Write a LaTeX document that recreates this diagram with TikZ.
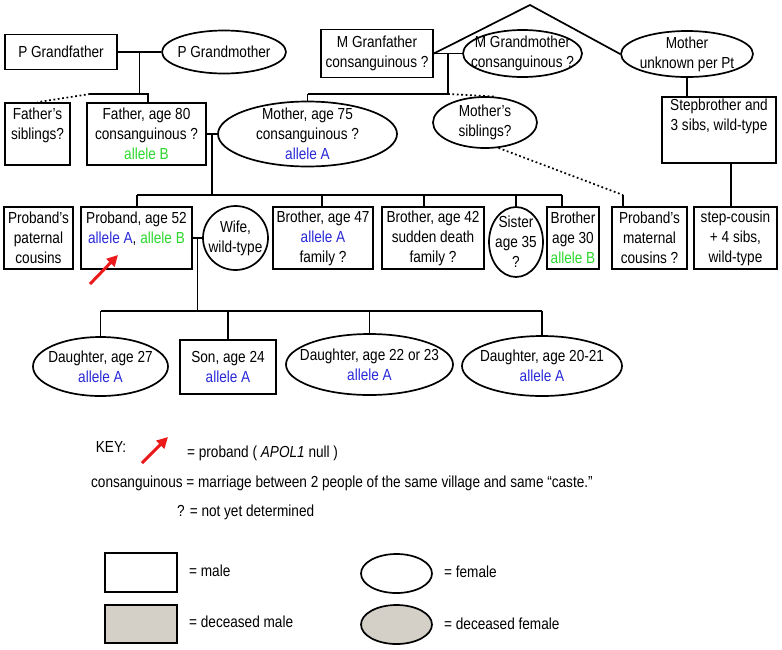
\documentclass[tikz,border=0pt]{standalone}
\usepackage{fontspec}
\setmainfont{Liberation Sans}[FakeStretch=0.85]
\usetikzlibrary{arrows.meta,calc,shapes.geometric}

\definecolor{alleleA}{RGB}{40,40,215}
\definecolor{alleleB}{RGB}{45,215,45}
\definecolor{deadgray}{RGB}{212,208,200}
\definecolor{probred}{RGB}{235,25,25}
\newcommand{\alA}{\textcolor{alleleA}{allele A}}
\newcommand{\alB}{\textcolor{alleleB}{allele B}}

\begin{document}
\begin{tikzpicture}[x=1pt,y=-1pt,line width=1.7pt,font=\fontsize{16}{20}\selectfont,
		sz/.style 2 args={minimum width=#1,minimum height=#2},
		male/.style={draw,rectangle,inner sep=0pt,align=center},
		female/.style={draw,ellipse,inner sep=-40pt,align=center},
		kin/.style={dash pattern=on 1.8pt off 2.6pt},
		probarrow/.style={probred,line width=3pt,-{Triangle[length=11pt,width=11pt]}}]
		\useasboundingbox (0,0) rectangle (782,649);
		
		\node[male,sz={112}{35}] (pgf) at (61,52) {P Grandfather};
		\node[female,sz={124}{43}] (pgm) at (224,52) {P Grandmother};
		\node[male,sz={112}{48}] (mgf) at (377,53.5) {M Granfather\\consanguinous ?};
		\node[female,sz={119}{47}] (mgm) at (522.5,53.5) {M Grandmother\\consanguinous ?};
		\node[female,sz={132}{46}] (mu) at (687,54) {Mother\\unknown per Pt};
		
		\node[male,sz={65}{62}] (fsib) at (37.5,134) {Father's\\siblings?\\~};
		\node[male,sz={119}{62}] (father) at (146.5,134) {Father, age 80\\consanguinous ?\\\alB};
		\node[female,sz={179}{65}] (mother) at (307.5,134) {Mother, age 75\\consanguinous ?\\\alA};
		\node[female,sz={104}{51}] (msib) at (485,122.5) {Mother's\\siblings?};
		\node[male,sz={114}{66}] (step) at (719,130) {Stepbrother and\\3 sibs, wild-type\\[10pt]~};
		
		\node[male,sz={69}{62}] (pcous) at (38.5,238) {Proband's\\paternal\\cousins};
		\node[male,sz={111}{62}] (proband) at (136.5,238) {Proband, age 52\\\alA, \alB\\~};
		\node[female,sz={65}{64}] (wife) at (235.5,238) {Wife,\\wild-type};
		\node[male,sz={100}{62}] (b47) at (323,238) {Brother, age 47\\\alA\\family ?};
		\node[male,sz={102}{62}] (b42) at (433,238) {Brother, age 42\\sudden death\\family ?};
		\node[female,sz={54}{70}] (sister) at (516,242) {Sister\\age 35\\?};
		\node[male,sz={52}{62}] (b30) at (573,238) {Brother\\age 30\\\alB};
		\node[male,sz={75}{62}] (mcous) at (649.5,238) {Proband's\\maternal\\cousins ?};
		\node[male,sz={83}{62}] (scous) at (735.5,238) {step-cousin\\+ 4 sibs,\\wild-type};
		
		\node[female,sz={135}{59}] (d27) at (100.5,366.5) {Daughter, age 27\\\alA};
		\node[male,sz={96}{54}] (son) at (228,367) {Son, age 24\\\alA};
		\node[female,sz={167}{61}] (d22) at (369.5,364.5) {Daughter, age 22 or 23\\\alA};
		\node[female,sz={160}{60}] (d20) at (542,366) {Daughter, age 20-21\\\alA};
		
		\coordinate (pmar) at ($(pgf.east)!0.5!(pgm.west)$);
		\coordinate (psib) at (90,94);
		\coordinate (pdrop) at (148,94);
		\coordinate (mmar) at ($(mgf.east)!0.5!(mgm.west)$);
		\coordinate (msibl) at (307.5,94);
		\coordinate (msibr) at (448,94);
		\coordinate (apex) at (530,5);
		\coordinate (fmar) at ($(father.east)!0.5!(mother.west)$);
		\coordinate (sibl) at (137,195);
		\coordinate (sibr) at (562,195);
		\coordinate (mcj) at (623,195);
		\coordinate (wmar) at ($(proband.east)!0.5!(wife.west)$);
		\coordinate (kidl) at (100.5,311);
		\coordinate (kidr) at (542,311);
		
		\draw (pgf) -- (pgm);
		\draw (pmar) -- (pmar |- psib);
		\draw (psib) -- (pdrop) -- (pdrop |- father.north);
		\draw[kin] (psib) -- (fsib.north);
		\draw (mgf) -- (mgm);
		\draw (mgf.east) -- (apex) -- (mu.west);
		\draw (mmar) -- (mmar |- msibr);
		\draw (msibl) -- (msibr);
		\draw (msibl) -- (mother.north);
		\draw[kin] (msibr) -- (msib.70);
		\draw[kin] (msib.-62) -- (mcj);
		\draw (mcj) -- (mcj |- mcous.north);
		\draw (mu.south) -- (mu.south |- step.north);
		\draw ([xshift=12pt]step.south) -- ([xshift=12pt]step.south |- scous.north);
		
		\draw (father) -- (mother);
		\draw (fmar) -- (fmar |- sibl);
		\draw (sibl) -- (sibr);
		\draw (sibl) -- (sibl |- proband.north);
		\draw (sibr) -- (sibr |- b30.north);
		\foreach \n/\x in {b47/322,b42/424,sister/516}
			\draw (\x,195) -- (\x,195 |- \n.north);
		
		\draw (proband) -- (wife);
		\draw (wmar) -- (wmar |- kidl);
		\draw (kidl) -- (kidr);
		\foreach \n in {d27,son,d22,d20}
			\draw (\n.north |- kidl) -- (\n.north);
		\draw[probarrow] (90,284) -- (118,255);
		
		% key
		\node (key) at (111,447) {KEY:};
		\draw[probarrow] (142,463) -- (168,437);
		\node[anchor=west] (keyprob) at (183,453) {= proband ( \textit{APOL1} null )};
		\node[anchor=west] (keycons) at (87,483) {consanguinous = marriage between 2 people of the same village and same ``caste.''};
		\node[anchor=west] (keyq) at (173,512) {? = not yet determined};
		\node[male,sz={72}{39}] (kmale) at (141,572.5) {};
		\node[anchor=west] (kmalet) at (185,571) {= male};
		\node[male,fill=deadgray,sz={72}{38}] (kdmale) at (141,624) {};
		\node[anchor=west] (kdmalet) at (185,622) {= deceased male};
		\node[female,sz={71}{39}] (kfem) at (396.5,573.5) {};
		\node[anchor=west] (kfemt) at (440,572) {= female};
		\node[female,fill=deadgray,sz={71}{39}] (kdfem) at (396.5,624.5) {};
		\node[anchor=west] (kdfemt) at (440,624) {= deceased female};
\end{tikzpicture}
\end{document}
